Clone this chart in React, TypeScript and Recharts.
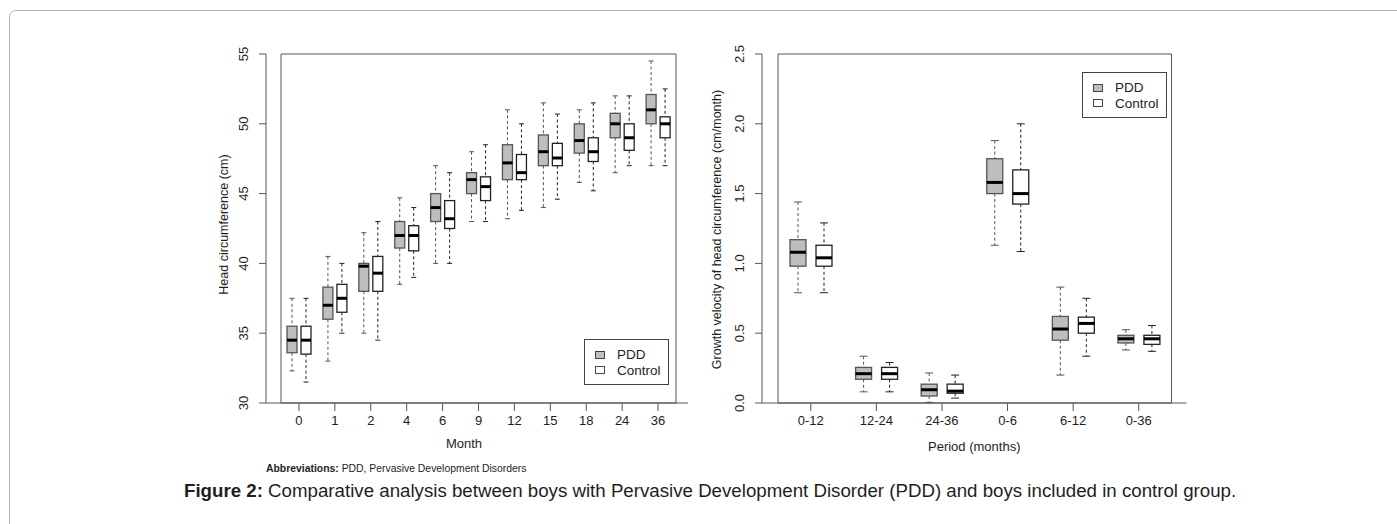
import React from 'react';
import { ComposedChart, Bar, XAxis, YAxis, Legend, ReferenceArea } from 'recharts';

// Head circumference by month (cm)
const months = ['0', '1', '2', '4', '6', '9', '12', '15', '18', '24', '36'];
const pddMin = [32.3, 33.0, 35.0, 38.5, 40.0, 43.0, 43.2, 44.0, 45.8, 46.5, 47.0];
const pddQ1 = [33.6, 36.0, 38.0, 41.1, 43.0, 45.0, 46.0, 47.0, 47.9, 49.0, 50.0];
const pddMedian = [34.5, 37.0, 39.8, 42.0, 44.0, 46.0, 47.2, 48.0, 48.8, 50.0, 51.0];
const pddQ3 = [35.5, 38.3, 40.0, 43.0, 45.0, 46.5, 48.5, 49.2, 50.0, 50.75, 52.1];
const pddMax = [37.5, 40.5, 42.2, 44.7, 47.0, 48.0, 51.0, 51.5, 51.0, 52.0, 54.5];
const ctrlMin = [31.5, 35.0, 34.5, 39.0, 40.0, 43.0, 43.8, 44.6, 45.2, 47.0, 47.0];
const ctrlQ1 = [33.5, 36.5, 38.0, 40.9, 42.5, 44.5, 46.0, 47.0, 47.3, 48.1, 49.0];
const ctrlMedian = [34.5, 37.5, 39.3, 42.0, 43.2, 45.5, 46.5, 47.55, 48.0, 49.0, 50.0];
const ctrlQ3 = [35.5, 38.5, 40.5, 42.7, 44.5, 46.2, 47.8, 48.6, 49.0, 50.0, 50.5];
const ctrlMax = [37.5, 40.0, 43.0, 44.0, 46.5, 48.5, 50.0, 50.7, 51.5, 52.0, 52.5];
const headTicks = [30, 35, 40, 45, 50, 55];

// Growth velocity by period (cm/month)
const periods = ['0-12', '12-24', '24-36', '0-6', '6-12', '0-36'];
const velPddMin = [0.79, 0.08, 0.005, 1.13, 0.2, 0.38];
const velPddQ1 = [0.98, 0.17, 0.05, 1.5, 0.45, 0.43];
const velPddMedian = [1.08, 0.21, 0.095, 1.58, 0.53, 0.46];
const velPddQ3 = [1.17, 0.255, 0.135, 1.75, 0.62, 0.485];
const velPddMax = [1.44, 0.335, 0.215, 1.88, 0.83, 0.525];
const velCtrlMin = [0.79, 0.08, 0.035, 1.085, 0.335, 0.37];
const velCtrlQ1 = [0.98, 0.17, 0.07, 1.425, 0.5, 0.42];
const velCtrlMedian = [1.04, 0.21, 0.085, 1.5, 0.57, 0.46];
const velCtrlQ3 = [1.13, 0.255, 0.135, 1.67, 0.615, 0.485];
const velCtrlMax = [1.29, 0.29, 0.2, 2.0, 0.75, 0.555];
const velTicks = [0, 0.5, 1, 1.5, 2, 2.5];

const seriesNames = ['PDD', 'Control'];

const FONT = '"Liberation Sans", Arial, Helvetica, sans-serif';
const TEXT = '#1e1e1e';
const AXIS = '#555';
const PDD_FILL = '#bebebe';
const CTRL_FILL = '#ffffff';

const stats = (mn: number[], q1: number[], md: number[], q3: number[], mx: number[], i: number) => ({
  min: mn[i], q1: q1[i], median: md[i], q3: q3[i], max: mx[i],
});

const headRows = months.map((label, i) => ({
  label,
  pdd: [pddMin[i], pddMax[i]],
  control: [ctrlMin[i], ctrlMax[i]],
  pddStats: stats(pddMin, pddQ1, pddMedian, pddQ3, pddMax, i),
  controlStats: stats(ctrlMin, ctrlQ1, ctrlMedian, ctrlQ3, ctrlMax, i),
}));

const velRows = periods.map((label, i) => ({
  label,
  pdd: [velPddMin[i], velPddMax[i]],
  control: [velCtrlMin[i], velCtrlMax[i]],
  pddStats: stats(velPddMin, velPddQ1, velPddMedian, velPddQ3, velPddMax, i),
  controlStats: stats(velCtrlMin, velCtrlQ1, velCtrlMedian, velCtrlQ3, velCtrlMax, i),
}));

// the bar covers min..max, the rest of the box is placed inside that span
const BoxShape = (props: any) => {
  const { x, y, width, height, payload, statsKey, boxWidth, fill, edge } = props;
  const s = payload && payload[statsKey];
  if (!s) return null;
  const top = Math.min(y, y + height);
  const bottom = Math.max(y, y + height);
  const span = s.max - s.min || 1;
  const toPx = (v: number) => bottom - ((v - s.min) / span) * (bottom - top);
  const cx = x + width / 2;
  const half = boxWidth / 2;
  const cap = boxWidth / 4;
  const yQ1 = toPx(s.q1);
  const yQ3 = toPx(s.q3);
  const yMed = toPx(s.median);
  return (
    <g>
      <line x1={cx} x2={cx} y1={top} y2={yQ3} stroke={edge} strokeDasharray="3 2.5" />
      <line x1={cx} x2={cx} y1={yQ1} y2={bottom} stroke={edge} strokeDasharray="3 2.5" />
      <line x1={cx - cap} x2={cx + cap} y1={top} y2={top} stroke={edge} />
      <line x1={cx - cap} x2={cx + cap} y1={bottom} y2={bottom} stroke={edge} />
      <rect x={cx - half} y={yQ3} width={boxWidth} height={Math.max(yQ1 - yQ3, 0)} fill={fill} stroke={edge} strokeWidth={1.3} />
      <line x1={cx - half} x2={cx + half} y1={yMed} y2={yMed} stroke="#000" strokeWidth={3} />
    </g>
  );
};

const RotatedTick = (props: any) => {
  const { x, y, payload, decimals } = props;
  const label = decimals ? Number(payload.value).toFixed(decimals) : String(payload.value);
  return (
    <text x={x} y={y} dy="0.35em" textAnchor="middle" fontSize={13} fill={TEXT}
      transform={`rotate(-90, ${x}, ${y})`}>
      {label}
    </text>
  );
};

const BoxLegend = ({ payload }: any) => {
  const items = [...(payload || [])].sort(
    (a: any, b: any) => seriesNames.indexOf(a.value) - seriesNames.indexOf(b.value)
  );
  return (
    <div style={{
      width: 85, height: 46, boxSizing: 'border-box', border: '1.5px solid #444',
      background: '#fff', paddingTop: 7, fontFamily: FONT,
    }}>
      {items.map((entry: any) => (
        <div key={entry.value} style={{ display: 'flex', alignItems: 'center', height: 15.5 }}>
          <span style={{
            display: 'inline-block', width: 10, height: 8, marginLeft: 10,
            background: entry.color, border: '1px solid #444', boxSizing: 'border-box',
          }} />
          <span style={{ marginLeft: 12, fontSize: 13.5, color: TEXT, lineHeight: '15px' }}>{entry.value}</span>
        </div>
      ))}
    </div>
  );
};

const yTitle = (text: string, dx: number, dy: number) => (p: any) => {
  const vb = p.viewBox || {};
  const cx = vb.x + vb.width - dx;
  const cy = vb.y + vb.height / 2 + dy;
  return (
    <text x={cx} y={cy} dy="0.35em" textAnchor="middle" fontSize={12.5} fill={TEXT}
      transform={`rotate(-90, ${cx}, ${cy})`}>
      {text}
    </text>
  );
};

const xTitle = (text: string, dx: number, dy: number) => (p: any) => {
  const vb = p.viewBox || {};
  return (
    <text x={vb.x + vb.width / 2 + dx} y={vb.y + dy} dy="0.35em" textAnchor="middle" fontSize={13} fill={TEXT}>
      {text}
    </text>
  );
};

interface BoxChartProps {
  rows: any[];
  yDomain: [number, number];
  yTicks: number[];
  decimals: number;
  barSize: number;
  boxWidth: number;
  margin: { top: number; right: number; bottom: number; left: number };
  padding: { left: number; right: number };
  xLabel: (p: any) => React.ReactElement;
  yLabel: (p: any) => React.ReactElement;
  legendPos: { left: number; top: number };
}

const BoxChart = ({ rows, yDomain, yTicks, decimals, barSize, boxWidth, margin, padding, xLabel, yLabel, legendPos }: BoxChartProps) => (
  <ComposedChart width={520} height={430} data={rows} margin={margin} barSize={barSize} barGap={0}>
    <XAxis
      dataKey="label"
      padding={padding}
      height={30}
      tickSize={8}
      tickMargin={5}
      tick={{ fill: TEXT, fontSize: 13 }}
      tickLine={{ stroke: AXIS }}
      axisLine={{ stroke: AXIS }}
      interval={0}
      label={xLabel}
    />
    <YAxis
      type="number"
      domain={yDomain}
      ticks={yTicks}
      width={40}
      tickSize={7}
      tickMargin={16}
      tick={<RotatedTick decimals={decimals} />}
      tickLine={{ stroke: AXIS }}
      axisLine={{ stroke: AXIS }}
      label={yLabel}
    />
    <ReferenceArea y1={yDomain[0]} y2={yDomain[1]} fill="none" stroke={AXIS} strokeWidth={1} ifOverflow="visible" />
    <Legend
      layout="vertical"
      align="center"
      verticalAlign="middle"
      content={<BoxLegend />}
      wrapperStyle={{ left: legendPos.left, top: legendPos.top, width: 85, height: 46 }}
    />
    <Bar
      dataKey="pdd"
      name="PDD"
      fill={PDD_FILL}
      isAnimationActive={false}
      shape={(p: any) => <BoxShape {...p} statsKey="pddStats" boxWidth={boxWidth} fill={PDD_FILL} edge="#555" />}
    />
    <Bar
      dataKey="control"
      name="Control"
      fill={CTRL_FILL}
      isAnimationActive={false}
      shape={(p: any) => <BoxShape {...p} statsKey="controlStats" boxWidth={boxWidth} fill={CTRL_FILL} edge="#222" />}
    />
  </ComposedChart>
);

export default function App() {
  return (
    <div style={{
      position: 'absolute', left: 0, top: 0, width: 1397, height: 524,
      overflow: 'hidden', background: '#fff', fontFamily: FONT, color: TEXT,
    }}>
      <div style={{
        position: 'absolute', left: 8.5, top: 10, width: 1440, height: 620,
        border: '1.5px solid #b4b4b4', borderRadius: 7, boxSizing: 'border-box',
      }} />

      <div style={{ position: 'absolute', left: 180, top: 40 }}>
        <BoxChart
          rows={headRows}
          yDomain={[30, 55]}
          yTicks={headTicks}
          decimals={0}
          barSize={14}
          boxWidth={10}
          margin={{ top: 14, right: 12, bottom: 37, left: 46 }}
          padding={{ left: 15, right: 12 }}
          xLabel={xTitle('Month', -13, 40)}
          yLabel={yTitle('Head circumference (cm)', 42, -4)}
          legendPos={{ left: 404, top: 299 }}
        />
      </div>

      <div style={{ position: 'absolute', left: 680, top: 40 }}>
        <BoxChart
          rows={velRows}
          yDomain={[0, 2.5]}
          yTicks={velTicks}
          decimals={1}
          barSize={26}
          boxWidth={16}
          margin={{ top: 14, right: 13.5, bottom: 37, left: 42 }}
          padding={{ left: 16, right: 15 }}
          xLabel={xTitle('Period (months)', 0, 43)}
          yLabel={yTitle('Growth velocity of head circumference (cm/month)', 45, 1)}
          legendPos={{ left: 402, top: 32 }}
        />
      </div>

      <div style={{ position: 'absolute', left: 266, top: 463, fontSize: 10.4, lineHeight: '12px', whiteSpace: 'nowrap' }}>
        <b>Abbreviations:</b> PDD, Pervasive Development Disorders
      </div>

      <div style={{ position: 'absolute', left: 184, top: 481, fontSize: 18.7, lineHeight: '20px', whiteSpace: 'nowrap' }}>
        <b>Figure 2:</b> Comparative analysis between boys with Pervasive Development Disorder (PDD) and boys included in control group.
      </div>
    </div>
  );
}
